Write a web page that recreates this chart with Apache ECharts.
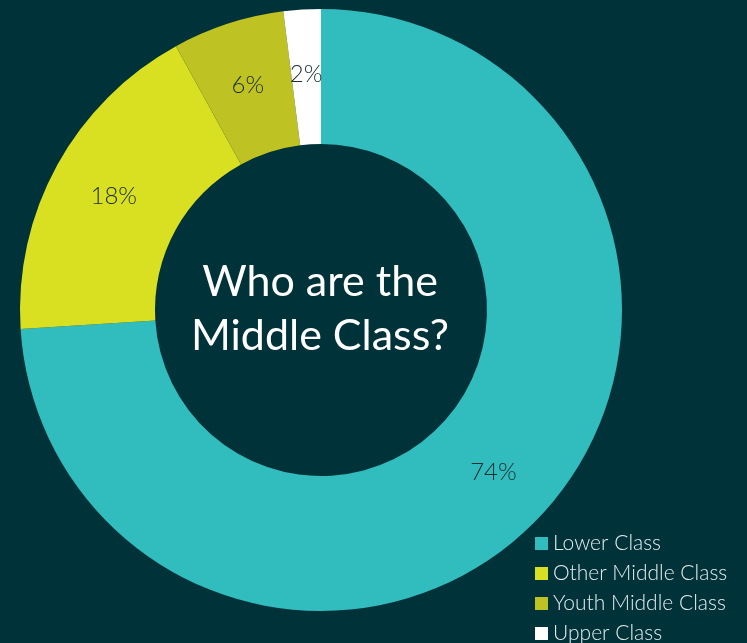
<!DOCTYPE html>
<html>
<head>
<meta charset="utf-8">
<script src="https://cdn.jsdelivr.net/npm/echarts@6/dist/echarts.min.js"></script>
<style>
    html, body { margin: 0; padding: 0; background: #003239; }
    #chart { width: 747px; height: 643px; }
</style>
</head>
<body>
<div id="chart"></div>
<script>
    const categories = ['Lower Class', 'Other Middle Class', 'Youth Middle Class', 'Upper Class'];
    const shares = [74, 18, 6, 2];
    const colors = ['#31bdbd', '#d9e021', '#bec222', '#ffffff'];

    const chart = echarts.init(document.getElementById('chart'));

    const option = {
        backgroundColor: '#003239',
        color: colors,
        legend: {
            orient: 'vertical',
            left: 530,
            top: 528,
            height: 140,
            itemWidth: 13,
            itemHeight: 13,
            itemGap: 9,
            icon: 'rect',
            textStyle: {
                color: '#e4ecec',
                fontFamily: 'Lato',
                fontWeight: 300,
                fontSize: 21
            },
            data: categories
        },
        graphic: [{
            type: 'text',
            x: 320,
            y: 309,
            style: {
                text: 'Who are the\nMiddle Class?',
                fill: '#ffffff',
                fontFamily: 'Lato',
                fontSize: 43,
                lineHeight: 54,
                align: 'center',
                verticalAlign: 'middle'
            }
        }],
        series: [{
            type: 'pie',
            center: [321, 310],
            radius: [166, 301],
            startAngle: 90,
            clockwise: true,
            avoidLabelOverlap: false,
            label: {
                show: true,
                position: 'inside',
                formatter: '{c}%',
                color: '#1a2d30',
                fontFamily: 'Lato',
                fontWeight: 300,
                fontSize: 24
            },
            labelLine: { show: false },
            emphasis: { disabled: true },
            data: categories.map((name, i) => ({ name: name, value: shares[i] }))
        }]
    };

    chart.setOption(option);
</script>
</body>
</html>
